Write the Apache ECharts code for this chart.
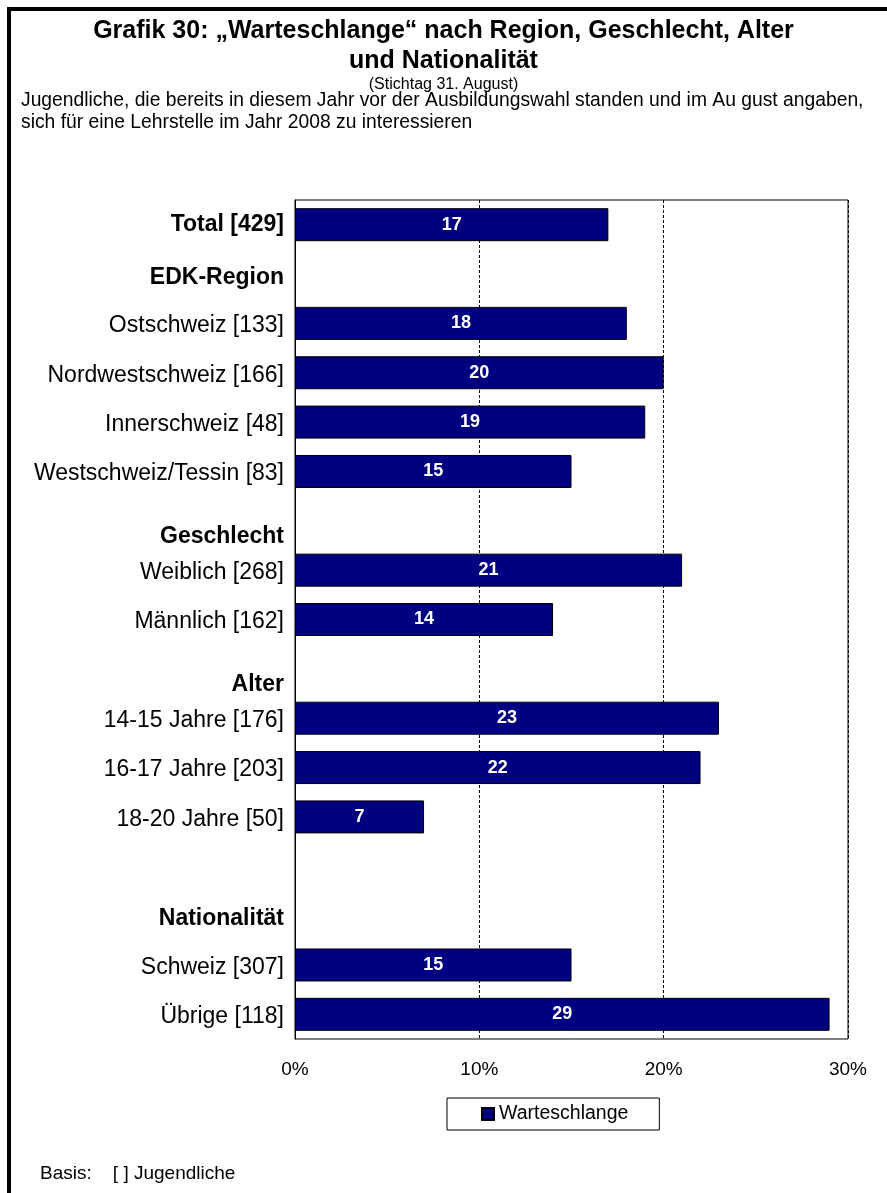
<!DOCTYPE html>
<html>
<head>
<meta charset="utf-8">
<title>Warteschlange</title>
<style>
  html, body { margin: 0; padding: 0; background: #fff; overflow: hidden; }
  #chart { width: 887px; height: 1193px; }
  /* outer frame, runs off the right and bottom edge like in the scan */
  #frame {
    position: absolute; left: 7px; top: 7px;
    width: 900px; height: 1200px;
    border-left: 4px solid #000; border-top: 4px solid #000;
    pointer-events: none;
  }
</style>
</head>
<body>
<div id="chart"></div>
<div id="frame"></div>
<script src="https://cdn.jsdelivr.net/npm/echarts@6/dist/echarts.min.js"></script>
<script>
// rows from top to bottom, headers have no value
var categories = [
  'Total [429]', 'EDK-Region', 'Ostschweiz [133]', 'Nordwestschweiz [166]',
  'Innerschweiz [48]', 'Westschweiz/Tessin [83]', 'Geschlecht', 'Weiblich [268]',
  'Männlich [162]', 'Alter', '14-15 Jahre [176]', '16-17 Jahre [203]',
  '18-20 Jahre [50]', '', 'Nationalität', 'Schweiz [307]', 'Übrige [118]'
];
var warteschlange = [17, null, 18, 20, 19, 15, null, 21, 14, null, 23, 22, 7, null, null, 15, 29];
var xTicks = [0, 10, 20, 30];

var chart = echarts.init(document.getElementById('chart'));
var FONT = '"Liberation Sans", Arial, sans-serif';

// header labels sit a bit lower than their row
var labelStyle = {
  'Total [429]': 'b',
  'EDK-Region': 'b1',
  'Geschlecht': 'b2',
  'Alter': 'b2',
  'Nationalität': 'b3'
};

chart.setOption({
  animation: false,
  textStyle: { fontFamily: FONT },
  title: [
    {
      text: 'Grafik 30: \u201EWarteschlange\u201C nach Region, Geschlecht, Alter',
      left: 'center', top: 19, padding: 0,
      textStyle: { fontSize: 25, fontWeight: 'bold', color: '#000' }
    },
    {
      text: 'und Nationalität',
      left: 'center', top: 49, padding: 0,
      textStyle: { fontSize: 25, fontWeight: 'bold', color: '#000' }
    },
    {
      text: '(Stichtag 31. August)',
      left: 'center', top: 77, padding: 0,
      textStyle: { fontSize: 16, fontWeight: 'normal', color: '#000' }
    },
    {
      text: 'Jugendliche, die bereits in diesem Jahr vor der Ausbildungswahl standen und im Au gust angaben,\nsich für eine Lehrstelle im Jahr 2008 zu interessieren',
      left: 21, top: 90, padding: 0,
      textStyle: { fontSize: 19.3, fontWeight: 'normal', color: '#000', lineHeight: 22 }
    },
    {
      text: 'Basis:    [ ] Jugendliche',
      left: 40, top: 1164, padding: 0,
      textStyle: { fontSize: 19, fontWeight: 'normal', color: '#000' }
    }
  ],
  legend: {
    data: ['Warteschlange'],
    left: 447, top: 1098,
    padding: [6, 31, 6, 34],
    borderColor: '#000', borderWidth: 1,
    itemWidth: 12, itemHeight: 12,
    icon: 'rect',
    textStyle: { fontSize: 19.5, color: '#000' }
  },
  grid: {
    left: 295, right: 39, top: 200, height: 839,
    show: true, borderColor: '#000', borderWidth: 1
  },
  xAxis: {
    type: 'value', min: 0, max: 30, interval: 10,
    axisLine: { show: false },
    axisTick: { show: false },
    axisLabel: {
      margin: 21, fontSize: 19, color: '#000',
      formatter: function (v) { return xTicks.indexOf(v) >= 0 ? v + '%' : ''; }
    },
    splitLine: { lineStyle: { color: '#000', type: [3, 2], width: 1 } }
  },
  yAxis: {
    type: 'category', data: categories, inverse: true,
    axisLine: { show: true, lineStyle: { color: '#000', width: 1 } },
    axisTick: { show: false },
    axisLabel: {
      margin: 11, color: '#000', fontSize: 23,
      formatter: function (v) {
        var s = labelStyle[v];
        return s ? '{' + s + '|' + v + '}' : '{n|' + v + '}';
      },
      rich: {
        n: { fontSize: 23, color: '#000', padding: [5, 0, 0, 0] },
        b: { fontSize: 23, fontWeight: 'bold', color: '#000' },
        b1: { fontSize: 23, fontWeight: 'bold', color: '#000', padding: [8, 0, 0, 0] },
        b2: { fontSize: 23, fontWeight: 'bold', color: '#000', padding: [31, 0, 0, 0] },
        b3: { fontSize: 23, fontWeight: 'bold', color: '#000', padding: [6, 0, 0, 0] }
      }
    }
  },
  series: [{
    name: 'Warteschlange',
    type: 'bar',
    data: warteschlange,
    barWidth: 33,
    itemStyle: { color: '#000080', borderColor: '#000', borderWidth: 1 },
    label: {
      show: true, position: 'inside',
      color: '#fff', fontSize: 18, fontWeight: 'bold'
    }
  }]
});
</script>
</body>
</html>
